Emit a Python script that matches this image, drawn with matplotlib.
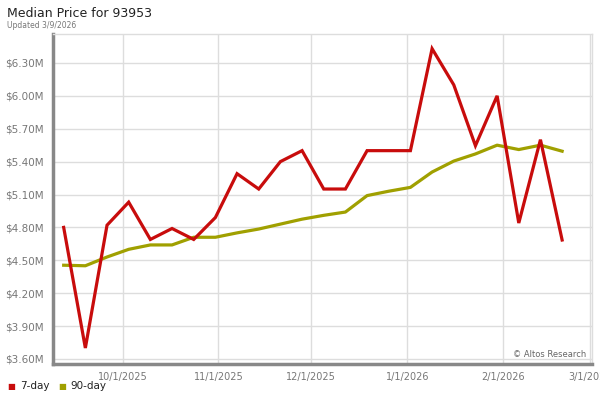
import matplotlib
matplotlib.use("Agg")
import matplotlib.pyplot as plt
import matplotlib.dates as mdates
import numpy as np
import datetime as dt

# weekly dates, first point 9/12/2025
start = dt.date(2025, 9, 12)
dates = [start + dt.timedelta(days=7 * i) for i in range(24)]

price_7day = [4.80, 3.70, 4.82, 5.03, 4.69, 4.79, 4.69, 4.89, 5.29, 5.15,
              5.40, 5.50, 5.15, 5.15, 5.50, 5.50, 5.50, 6.43, 6.10, 5.545,
              6.00, 4.84, 5.60, 4.685]
price_90day = [4.455, 4.45, 4.53, 4.60, 4.64, 4.64, 4.71, 4.71, 4.75, 4.785,
               4.83, 4.875, 4.91, 4.94, 5.09, 5.13, 5.165, 5.305, 5.405, 5.47,
               5.55, 5.51, 5.55, 5.495]

yticks = [3.60, 3.90, 4.20, 4.50, 4.80, 5.10, 5.40, 5.70, 6.00, 6.30]
xticks = [dt.date(2025, 10, 1), dt.date(2025, 11, 1), dt.date(2025, 12, 1),
          dt.date(2026, 1, 1), dt.date(2026, 2, 1), dt.date(2026, 3, 1)]

red = "#c80c0c"
olive = "#a0a000"
W, H = 600, 400

fig = plt.figure(figsize=(6, 4), dpi=100)
# axes box in pixels: left 53, right 592, top 34, bottom 364
ax = fig.add_axes([53 / W, (H - 364) / H, (592 - 53) / W, (364 - 34) / H])

ax.plot(dates, price_7day, color=red, lw=2.3, solid_joinstyle="miter", zorder=3)
ax.plot(dates, price_90day, color=olive, lw=2.3, zorder=2)

ax.set_ylim(3.554, 6.564)
ax.set_xlim(mdates.date2num(dt.date(2025, 9, 8)) + 0.55,
            mdates.date2num(dt.date(2026, 3, 1)) + 0.65)

ax.set_yticks(yticks)
ax.set_yticklabels(["$%.2fM" % v for v in yticks])
ax.set_xticks(xticks)
ax.set_xticklabels(["%d/%d/%d" % (d.month, d.day, d.year) for d in xticks])
ax.tick_params(axis="both", length=0, colors="#777777", labelsize=7)
ax.tick_params(axis="y", pad=7, labelsize=7.5)
ax.tick_params(axis="x", pad=6)

ax.grid(True, color="#dddddd", lw=1)
ax.set_axisbelow(True)
for s in ["top", "right"]:
    ax.spines[s].set_color("#dddddd")
    ax.spines[s].set_linewidth(1)
for s in ["left", "bottom"]:
    ax.spines[s].set_color("#888888")
    ax.spines[s].set_linewidth(2.5)

ax.text(0.99, 0.015, "\u00a9 Altos Research", transform=ax.transAxes,
        ha="right", va="bottom", fontsize=6, color="#666666")

fig.text(7 / W, 1 - 17 / H, "Median Price for 93953", fontsize=9,
         color="#222222", va="baseline")
fig.text(7 / W, 1 - 28 / H, "Updated 3/9/2026", fontsize=5.5,
         color="#777777", va="baseline")

# legend row
fig.text(7 / W, 1 - 389 / H, "\u25a0", fontsize=6, color=red, va="baseline")
fig.text(20 / W, 1 - 389 / H, "7-day", fontsize=7.5, color="#222222", va="baseline")
fig.text(58 / W, 1 - 389 / H, "\u25a0", fontsize=6, color=olive, va="baseline")
fig.text(70 / W, 1 - 389 / H, "90-day", fontsize=7.5, color="#222222", va="baseline")

fig.savefig("out.png", dpi=100)
